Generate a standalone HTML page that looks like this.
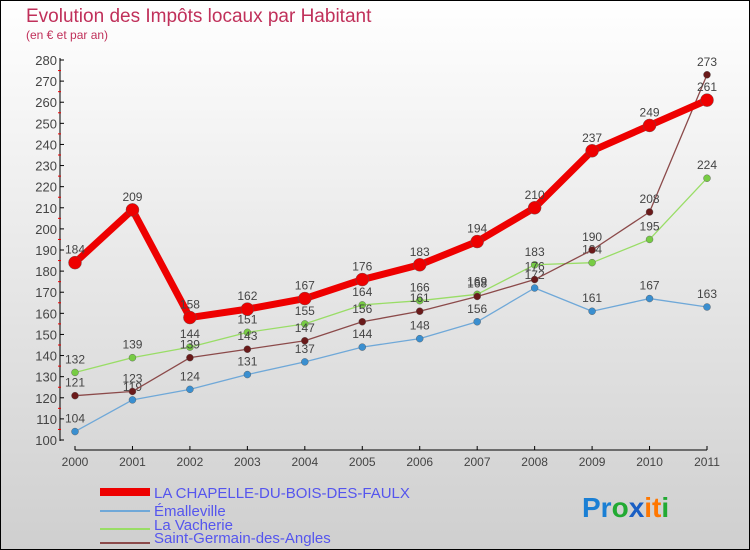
<!DOCTYPE html>
<html><head><meta charset="utf-8"><style>
body{margin:0;width:750px;height:550px;overflow:hidden}
svg{display:block;font-family:"Liberation Sans",sans-serif}
</style></head><body>
<svg width="750" height="550" viewBox="0 0 750 550">
<defs><linearGradient id="bg" x1="0" y1="0" x2="0" y2="1"><stop offset="0" stop-color="#ffffff"/><stop offset="1" stop-color="#cfcfcf"/></linearGradient></defs>
<rect x="0.5" y="0.5" width="749" height="549" fill="url(#bg)" stroke="#000"/>
<text x="26" y="22" font-size="19" fill="#c0305a">Evolution des Impôts locaux par Habitant</text>
<text x="26" y="39" font-size="12" fill="#c0305a">(en € et par an)</text>
<g id="axes"></g>
<g id="series"></g>
<g font-size="15" fill="#5555ee">
<rect x="100" y="488" width="50" height="8" fill="#e00"/>
<text x="154" y="498">LA CHAPELLE-DU-BOIS-DES-FAULX</text>
<rect x="100" y="510" width="50" height="2" fill="#6fa8d8"/>
<text x="154" y="516">Émalleville</text>
<rect x="100" y="528" width="50" height="2" fill="#99dd66"/>
<text x="154" y="530">La Vacherie</text>
<rect x="100" y="542" width="50" height="2" fill="#8b4a4a"/>
<text x="154" y="543">Saint-Germain-des-Angles</text>
</g>
<text x="582" y="517" font-size="28" font-weight="bold"><tspan fill="#1a7fd4">Pr</tspan><tspan fill="#22aa33">o</tspan><tspan fill="#1a5fc4">x</tspan><tspan fill="#ff7700">it</tspan><tspan fill="#22aa33">i</tspan></text>
</svg>
<script>
const years=[2000,2001,2002,2003,2004,2005,2006,2007,2008,2009,2010,2011];
const yTicks=[100,110,120,130,140,150,160,170,180,190,200,210,220,230,240,250,260,270,280];
const chapelle=[184,209,158,162,167,176,183,194,210,237,249,261];
const emalleville=[104,119,124,131,137,144,148,156,172,161,167,163];
const vacherie=[132,139,144,151,155,164,166,169,183,184,195,224];
const stgermain=[121,123,139,143,147,156,161,168,176,190,208,273];
const NS='http://www.w3.org/2000/svg';
function xs(i){return 75+i*(707-75)/11;}
function ys(v){return 440-(v-100)*380/180;}
function mk(t,a,p){const e=document.createElementNS(NS,t);for(const k in a)e.setAttribute(k,a[k]);p.appendChild(e);return e;}
const ax=document.getElementById('axes');
let l=mk('line',{x1:60,y1:58,x2:60,y2:441,stroke:'#000'},ax);


l=mk('line',{x1:75,y1:450,x2:707,y2:450,stroke:'#000'},ax);


yTicks.forEach((v,i)=>{const y=ys(v);
 mk('line',{x1:60,y1:y,x2:64,y2:y,stroke:'#000'},ax);
 if(i<yTicks.length-1)mk('line',{x1:58,y1:y-10.55,x2:61,y2:y-10.55,stroke:'#e00'},ax);
 const t=mk('text',{x:57,y:y+5,'text-anchor':'end','font-size':13,fill:'#444'},ax);t.textContent=v;
 
 });
years.forEach((yr,i)=>{const x=xs(i);
 mk('line',{x1:x,y1:446,x2:x,y2:450,stroke:'#000'},ax);
 const t=mk('text',{x:x,y:466,'text-anchor':'middle','font-size':12,fill:'#444'},ax);t.textContent=yr;
 
 });
const sg=document.getElementById('series');
function draw(data,color,w,r,name,fill){
 const g=mk('g',{},sg);
 
 
 mk('polyline',{points:data.map((v,i)=>xs(i)+','+ys(v)).join(' '),fill:'none',stroke:color,'stroke-width':w,'stroke-linejoin':'round'},g);
 data.forEach((v,i)=>{const c=mk('circle',{cx:xs(i),cy:ys(v),r:r,fill:fill,stroke:'#555','stroke-width':0.4},g);
  
  
  const t=mk('text',{x:xs(i),y:ys(v)-9,'text-anchor':'middle','font-size':12,fill:'#444'},g);t.textContent=v;
  
  });
}
draw(emalleville,'#6fa8d8',1.3,3.5,'emalleville','#3a8fd0');
draw(vacherie,'#99dd66',1.3,3.5,'vacherie','#77cc44');
draw(stgermain,'#8b4a4a',1.3,3.5,'saint-germain','#6a1a1a');
draw(chapelle,'#ee0000',7,6.5,'chapelle','#ee0000');
</script>
</body></html>
